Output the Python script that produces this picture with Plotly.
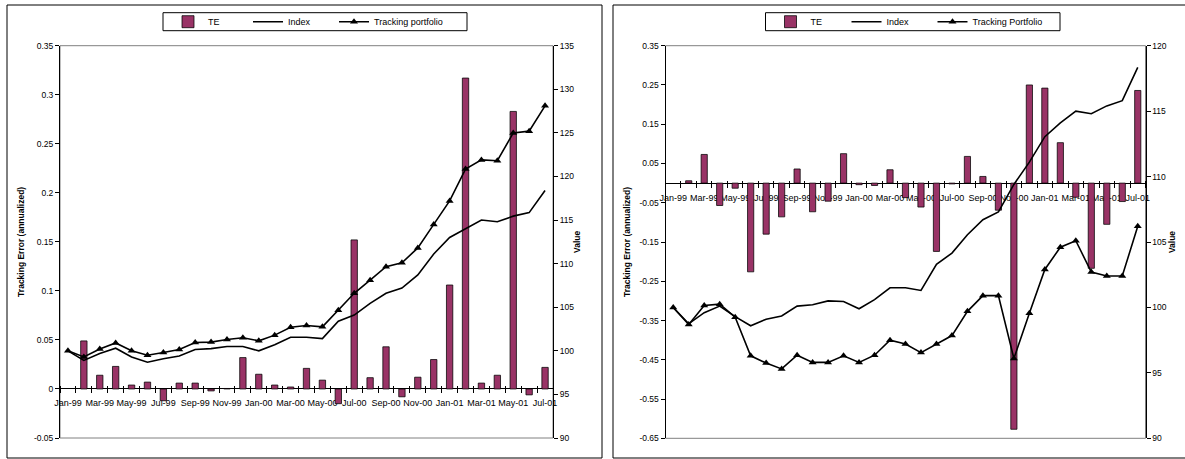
import plotly.graph_objects as go

# Monthly categories, Jan-99 .. Jul-01
months = [
    "Jan-99", "Feb-99", "Mar-99", "Apr-99", "May-99", "Jun-99", "Jul-99", "Aug-99",
    "Sep-99", "Oct-99", "Nov-99", "Dec-99", "Jan-00", "Feb-00", "Mar-00", "Apr-00",
    "May-00", "Jun-00", "Jul-00", "Aug-00", "Sep-00", "Oct-00", "Nov-00", "Dec-00",
    "Jan-01", "Feb-01", "Mar-01", "Apr-01", "May-01", "Jun-01", "Jul-01",
]

# Left panel: tracking error (annualized) and cumulative values
te_left = [
    None, 0.049, 0.014, 0.023, 0.004, 0.007, -0.012, 0.006, 0.006, -0.002, 0.0005, 0.032,
    0.015, 0.004, 0.002, 0.021, 0.009, -0.015, 0.152, 0.0115, 0.043, -0.008, 0.012, 0.030,
    0.106, 0.317, 0.006, 0.014, 0.283, -0.006, 0.022,
]
index_left = [
    100.0, 98.9, 99.7, 100.3, 99.3, 98.7, 99.1, 99.4, 100.15, 100.25, 100.5, 100.5,
    100.0, 100.7, 101.55, 101.55, 101.4, 103.4, 104.1, 105.45, 106.6, 107.2, 108.7, 111.1,
    113.0, 114.0, 115.0, 114.8, 115.45, 115.85, 118.4,
]
tracking_left = [
    100.0, 99.3, 100.2, 100.9, 100.0, 99.5, 99.8, 100.15, 100.95, 101.0, 101.3, 101.5,
    101.15, 101.8, 102.7, 102.9, 102.75, 104.65, 106.6, 108.1, 109.65, 110.1, 111.8, 114.5,
    117.2, 120.85, 121.9, 121.8, 125.0, 125.2, 128.1,
]

# Right panel
te_right = [
    None, 0.006, 0.073, -0.057, -0.013, -0.226, -0.130, -0.086, 0.036, -0.073, -0.046, 0.075,
    -0.004, -0.006, 0.034, -0.037, -0.061, -0.174, -0.002, 0.068, 0.017, -0.069, -0.627, 0.250,
    0.242, 0.103, -0.036, -0.217, -0.105, -0.047, 0.236,
]
index_right = [
    100.0, 98.75, 99.6, 100.1, 99.3, 98.6, 99.1, 99.35, 100.1, 100.2, 100.5, 100.45,
    99.9, 100.6, 101.5, 101.5, 101.3, 103.3, 104.15, 105.55, 106.7, 107.3, 109.4, 111.1,
    113.05, 114.1, 115.0, 114.8, 115.4, 115.8, 118.35,
]
tracking_right = [
    100.0, 98.7, 100.15, 100.25, 99.25, 96.3, 95.75, 95.3, 96.35, 95.8, 95.8, 96.3,
    95.8, 96.35, 97.5, 97.2, 96.55, 97.2, 97.85, 99.7, 100.9, 100.9, 96.1, 99.55,
    102.9, 104.6, 105.1, 102.7, 102.4, 102.4, 106.2,
]

# Axis ticks
te_ticks_left = [-0.05, 0.0, 0.05, 0.1, 0.15, 0.2, 0.25, 0.3, 0.35]
te_labels_left = ["-0.05", "0", "0.05", "0.1", "0.15", "0.2", "0.25", "0.3", "0.35"]
value_ticks_left = [90, 95, 100, 105, 110, 115, 120, 125, 130, 135]
te_ticks_right = [-0.65, -0.55, -0.45, -0.35, -0.25, -0.15, -0.05, 0.05, 0.15, 0.25, 0.35]
te_labels_right = ["-0.65", "-0.55", "-0.45", "-0.35", "-0.25", "-0.15", "-0.05",
                   "0.05", "0.15", "0.25", "0.35"]
value_ticks_right = [90, 95, 100, 105, 110, 115, 120]

W, H = 1185, 459
BAR = "#993366"
FONT = "Liberation Sans, Arial, sans-serif"

xs = list(range(len(months)))
month_ticks = xs[::2]
month_labels = months[::2]


def px(p):
    return p / W


def py(p):
    return 1 - p / H


# plot-area boxes in pixels (left, right, top, bottom)
left_box = (60, 553, 45.7, 438.0)
right_box = (665.5, 1145.5, 45.7, 438.3)

fig = go.Figure()


def add_panel(te, idx, trk, xa, ya, ya2, leg, trk_name):
    fig.add_trace(go.Bar(
        x=xs, y=te, name="TE", xaxis=xa, yaxis=ya, width=0.4,
        marker=dict(color=BAR, line=dict(color="black", width=0.75)),
        legend=leg, legendwidth=35 if leg == "legend" else 31,
    ))
    fig.add_trace(go.Scatter(
        x=xs, y=idx, name="Index", xaxis=xa, yaxis=ya2, mode="lines",
        line=dict(color="black", width=1.6), legend=leg, legendwidth=41,
    ))
    fig.add_trace(go.Scatter(
        x=xs, y=trk, name=trk_name, xaxis=xa, yaxis=ya2, mode="lines+markers",
        line=dict(color="black", width=1.6),
        marker=dict(symbol="triangle-up", size=7, color="black"),
        legend=leg, legendwidth=72,
    ))


add_panel(te_left, index_left, tracking_left, "x", "y", "y2", "legend", "Tracking portfolio")
add_panel(te_right, index_right, tracking_right, "x2", "y3", "y4", "legend2", "Tracking Portfolio")


def zero_position(box, lo, hi):
    y0, y1 = py(box[3]), py(box[2])
    return y0 + (0 - lo) / (hi - lo) * (y1 - y0)


def xaxis_cfg(box, lo, hi):
    return dict(
        domain=[px(box[0]), px(box[1])], anchor="free", automargin=False,
        position=zero_position(box, lo, hi) + 3.5 / H,
        range=[-0.5, len(months) - 0.5], showgrid=False, zeroline=False, showline=False,
        tickmode="array", tickvals=month_ticks, ticktext=month_labels, ticks="",
        tickangle=0,
        minor=dict(tick0=-0.5, dtick=1, ticks="outside", ticklen=7, tickcolor="black",
                   tickwidth=1, showgrid=False),
        tickfont=dict(size=9, family=FONT, color="black"),
        ticklabelstandoff=11, layer="below traces",
    )


def yaxis_cfg(box, lo, hi, tv, tt, anchor, standoff):
    return dict(
        domain=[py(box[3]), py(box[2])], anchor=anchor, range=[lo, hi], automargin=False,
        tickmode="array", tickvals=tv, ticktext=tt, ticks="outside", ticklen=4,
        tickcolor="black", showline=True, linecolor="black", linewidth=1,
        showgrid=False, zeroline=True, zerolinecolor="black", zerolinewidth=1,
        tickfont=dict(size=8.5, family=FONT, color="black"),
        title=dict(text="Tracking Error (annualized)", standoff=standoff,
                   font=dict(size=8.5, family=FONT, color="black", weight="bold")),
    )


def vaxis_cfg(over, anchor, lo, hi, tv, standoff):
    return dict(
        overlaying=over, anchor=anchor, side="right", range=[lo, hi], automargin=False,
        tickmode="array", tickvals=tv, ticks="outside", ticklen=4, tickcolor="black",
        showline=True, linecolor="black", linewidth=1, showgrid=False, zeroline=False,
        tickfont=dict(size=8.5, family=FONT, color="black"),
        title=dict(text="Value", standoff=standoff,
                   font=dict(size=8.5, family=FONT, color="black", weight="bold")),
    )


legend_common = dict(
    orientation="h", xanchor="left", yanchor="middle", bgcolor="rgba(0,0,0,0)",
    borderwidth=0, font=dict(size=9, family=FONT, color="black"),
    itemwidth=30, tracegroupgap=0, traceorder="normal",
)

fig.update_layout(
    width=W, height=H, margin=dict(l=0, r=0, t=0, b=0, autoexpand=False),
    paper_bgcolor="white", plot_bgcolor="white",
    font=dict(family=FONT, size=9, color="black"),
    showlegend=True,
    xaxis=xaxis_cfg(left_box, -0.05, 0.35),
    yaxis=yaxis_cfg(left_box, -0.05, 0.35, te_ticks_left, te_labels_left, "x", 7),
    yaxis2=vaxis_cfg("y", "x", 90, 135, value_ticks_left, 0),
    xaxis2=xaxis_cfg(right_box, -0.65, 0.35),
    yaxis3=yaxis_cfg(right_box, -0.65, 0.35, te_ticks_right, te_labels_right, "x2", 7),
    yaxis4=vaxis_cfg("y3", "x2", 90, 120, value_ticks_right, 0),
    legend=dict(legend_common, x=px(168), y=py(21.7)),
    legend2=dict(legend_common, x=px(770.5), y=py(21.7)),
)

shapes = []
# chart frames
for x0, x1 in [(7, 602), (613, 1200)]:
    shapes.append(dict(type="rect", xref="paper", yref="paper", x0=px(x0), x1=px(x1),
                       y0=py(458), y1=py(5), line=dict(color="black", width=1)))
# legend boxes
for x0, x1 in [(163, 467), (765.5, 1060)]:
    shapes.append(dict(type="rect", xref="paper", yref="paper", x0=px(x0), x1=px(x1),
                       y0=py(30.7), y1=py(12.7), line=dict(color="black", width=1)))
# plot-area borders
for xa, ya in [("x", "y"), ("x2", "y3")]:
    shapes.append(dict(type="rect", xref=f"{xa} domain", yref=f"{ya} domain",
                       x0=0, x1=1, y0=0, y1=1, layer="below",
                       line=dict(color="#808080", width=1)))
fig.update_layout(shapes=shapes)

fig.write_html("out.html")
